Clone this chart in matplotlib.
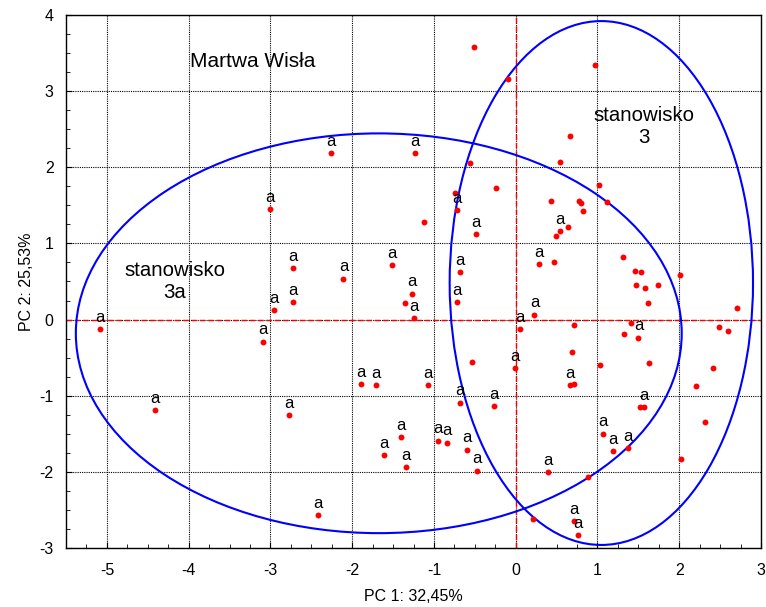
import matplotlib
matplotlib.use("Agg")
import matplotlib.pyplot as plt
from matplotlib.patches import Ellipse
from matplotlib.ticker import MultipleLocator

plt.rcParams['font.family'] = ['Liberation Sans', 'DejaVu Sans']
plt.rcParams['axes.unicode_minus'] = False

# points with an "a" label
lab_x = [-3.006, -2.254, -1.227, -0.716, -0.491, 0.544, 0.286, 0.229, 0.057, 1.501,
         0.659, 1.571, 1.072, 1.190, 1.374, 0.389, 0.712, 0.757, -2.773, -4.413,
         -0.687, -0.266, -1.407, -1.611, -1.346, -0.953, -0.843, -0.601, -0.475, -2.421,
         -2.724, -2.724, -2.107, -1.517, -0.683, -1.272, -1.239, -0.716, -0.008, -1.893,
         -1.709, -1.071, -5.088, -2.961, -3.092]
lab_y = [1.449, 2.184, 2.184, 1.443, 1.128, 1.160, 0.734, 0.065, -0.128, -0.237,
         -0.859, -1.152, -1.498, -1.726, -1.686, -2.002, -2.649, -2.833, -1.253, -1.187,
         -1.091, -1.135, -1.546, -1.783, -1.936, -1.590, -1.616, -1.708, -1.984, -2.571,
         0.673, 0.235, 0.538, 0.717, 0.625, 0.341, 0.017, 0.231, -0.640, -0.850,
         -0.859, -0.859, -0.128, 0.122, -0.290]

# points without label
unl_x = [-0.511, -0.094, -0.556, -0.245, -0.740, 0.969, 0.663, 0.544, 1.022, 0.426,
         0.773, 0.798, 1.112, 0.822, 0.638, 0.487, 0.470, 1.313, 1.460, 1.534,
         2.012, 1.476, 1.579, 1.742, 1.616, 2.712, 0.716, 1.415, 1.329, 2.482,
         2.601, 0.691, 1.031, 1.628, 2.417, 2.200, 0.716, 1.525, 2.319, 2.020,
         0.888, 0.213, -1.117, -1.353, -0.540]
unl_y = [3.580, 3.156, 2.057, 1.733, 1.663, 3.344, 2.416, 2.074, 1.763, 1.558,
         1.562, 1.527, 1.549, 1.426, 1.220, 1.102, 0.757, 0.818, 0.634, 0.625,
         0.581, 0.450, 0.415, 0.450, 0.214, 0.157, -0.071, -0.045, -0.189, -0.097,
         -0.145, -0.425, -0.596, -0.574, -0.640, -0.868, -0.842, -1.152, -1.349, -1.835,
         -2.072, -2.623, 1.278, 0.214, -0.553]

point_label = "a"
xlabel = "PC 1: 32,45%"
ylabel = "PC 2: 25,53%"

# ellipses: center x, center y, width, height
ell_3a = (-1.675, -0.18, 7.41, 5.25)
ell_3 = (1.047, 0.48, 3.71, 6.88)

fig = plt.figure(figsize=(7.66, 6.07), dpi=100)
ax = fig.add_axes([0.0862, 0.0972, 0.9073, 0.8781])

ax.set_xlim(-5.5, 3)
ax.set_ylim(-3, 4)
ax.xaxis.set_major_locator(MultipleLocator(1))
ax.yaxis.set_major_locator(MultipleLocator(1))
ax.xaxis.set_minor_locator(MultipleLocator(0.25))
ax.yaxis.set_minor_locator(MultipleLocator(0.25))
ax.tick_params(which='both', direction='in', top=False, right=False, labelsize=11.5)
ax.tick_params(which='major', length=4)
ax.tick_params(axis='x', which='major', pad=11)
ax.tick_params(axis='y', which='major', pad=9)
ax.tick_params(which='minor', length=3)
ax.grid(True, which='major', color='black', linestyle=(0, (1, 1)), linewidth=0.8)
ax.set_axisbelow(True)
for s in ax.spines.values():
    s.set_linewidth(1.0)

ax.axhline(0, color='red', linestyle=(0, (4, 2)), linewidth=1.0, zorder=1)
ax.axvline(0, color='red', linestyle=(0, (4, 2)), linewidth=1.0, zorder=1)

for (cx, cy, w, h) in [ell_3a, ell_3]:
    ax.add_patch(Ellipse((cx, cy), w, h, fill=False, edgecolor='#0000ff', linewidth=1.5, zorder=2))

ax.scatter(lab_x + unl_x, lab_y + unl_y, s=18, color='#ff0000', zorder=3, linewidths=0)
for x, y in zip(lab_x, lab_y):
    ax.annotate(point_label, (x, y), xytext=(0, 3), textcoords='offset points',
                ha='center', va='bottom', fontsize=12, color='black', zorder=4)

ax.text(-3.215, 3.383, "Martwa Wisła", fontsize=15, ha='center', va='center')
ax.text(-4.17, 0.503, "stanowisko\n3a", fontsize=14.7, ha='center', va='center', linespacing=1.2)
ax.text(1.57, 2.53, "stanowisko\n3", fontsize=14.7, ha='center', va='center', linespacing=1.2)

ax.set_xlabel(xlabel, fontsize=11.5, labelpad=8)
ax.set_ylabel(ylabel, fontsize=11.5, labelpad=4)

fig.savefig("out.png", dpi=100)
